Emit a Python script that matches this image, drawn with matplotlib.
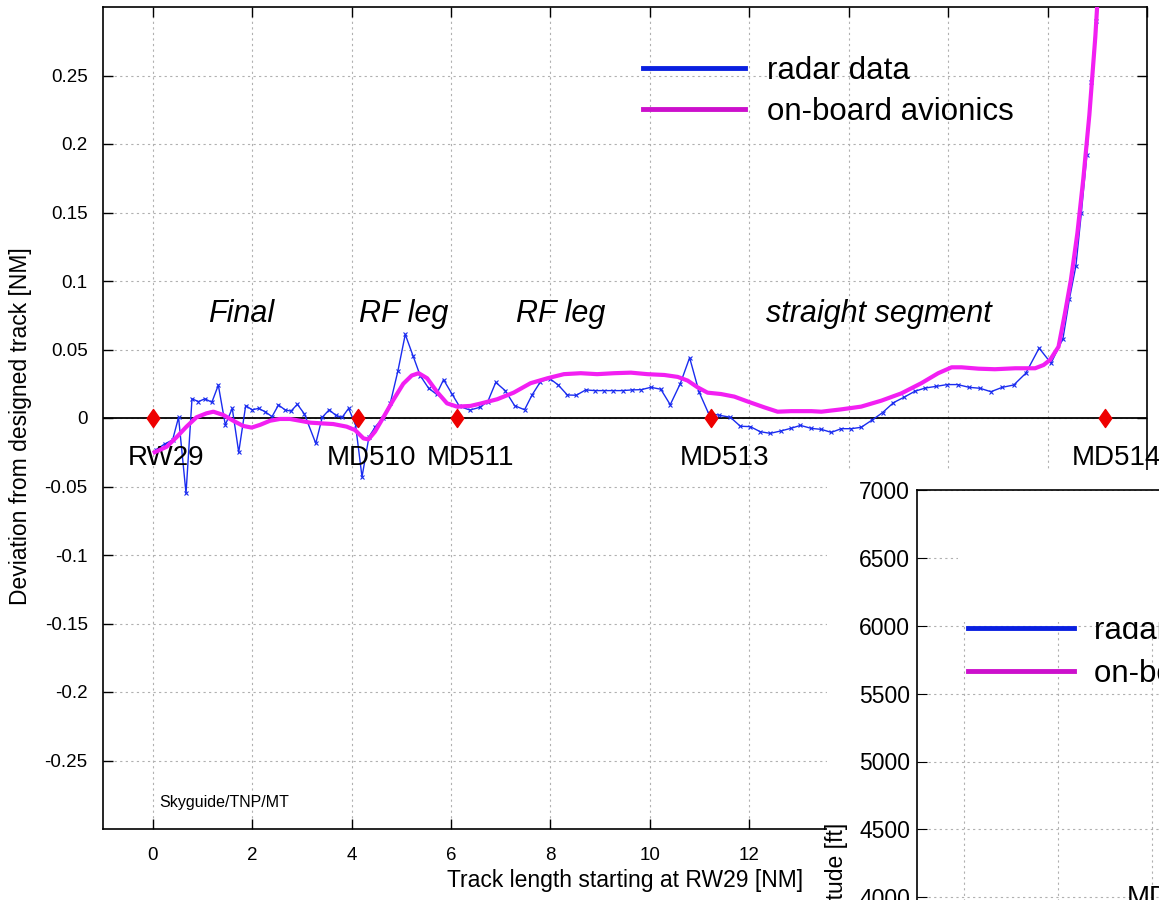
import matplotlib
matplotlib.use("Agg")
import matplotlib.pyplot as plt
from matplotlib.lines import Line2D
from matplotlib.patches import Rectangle
from matplotlib.path import Path

plt.rcParams["font.family"] = ["Liberation Sans", "DejaVu Sans"]

# radar data (track length NM, deviation NM)
radar_x = [0.07, 0.24, 0.40, 0.52, 0.67, 0.79, 0.92, 1.05, 1.19, 1.32, 1.46, 1.60, 1.73,
           1.87, 2.00, 2.13, 2.26, 2.40, 2.53, 2.66, 2.78, 2.91, 3.05, 3.28, 3.41, 3.55,
           3.68, 3.81, 3.94, 4.08, 4.21, 4.35, 4.48, 4.63, 4.78, 4.93, 5.08, 5.24, 5.38,
           5.55, 5.71, 5.85, 6.02, 6.17, 6.38, 6.58, 6.74, 6.90, 7.09, 7.28, 7.48, 7.63,
           7.80, 7.99, 8.16, 8.34, 8.52, 8.71, 8.89, 9.07, 9.26, 9.45, 9.64, 9.83, 10.02,
           10.22, 10.41, 10.61, 10.80, 10.99, 11.18, 11.40, 11.62, 11.82, 12.02, 12.22,
           12.42, 12.63, 12.83, 13.03, 13.25, 13.45, 13.65, 13.85, 14.05, 14.25, 14.47,
           14.68, 14.90, 15.11, 15.33, 15.54, 15.76, 15.98, 16.19, 16.42, 16.64, 16.86,
           17.09, 17.32, 17.56, 17.83, 18.07, 18.31, 18.44, 18.57, 18.68, 18.79, 18.88,
           18.97, 19.05]
radar_y = [-0.023, -0.019, -0.016, 0.0005, -0.055, 0.014, 0.012, 0.014, 0.0115, 0.024,
           -0.005, 0.007, -0.025, 0.009, 0.006, 0.007, 0.0046, 0.001, 0.0095, 0.006, 0.005,
           0.010, 0.003, -0.0185, 0.0005, 0.006, 0.002, 0.0005, 0.007, -0.005, -0.043,
           -0.0137, -0.0063, 0.0, 0.011, 0.034, 0.061, 0.045, 0.031, 0.0217, 0.0173, 0.028,
           0.0175, 0.0085, 0.0058, 0.0078, 0.012, 0.026, 0.020, 0.009, 0.006, 0.0168,
           0.0265, 0.0287, 0.024, 0.0168, 0.0166, 0.0205, 0.020, 0.020, 0.020, 0.020,
           0.0205, 0.0207, 0.0224, 0.021, 0.0097, 0.0249, 0.044, 0.019, 0.0034, 0.002,
           0.0005, -0.006, -0.0063, -0.010, -0.0112, -0.0095, -0.0076, -0.0054, -0.0076,
           -0.0083, -0.0105, -0.0078, -0.0078, -0.0068, -0.0015, 0.0039, 0.0112, 0.0151,
           0.0195, 0.0219, 0.0231, 0.0244, 0.0244, 0.0224, 0.0217, 0.0192, 0.0224, 0.0241,
           0.0326, 0.051, 0.040, 0.058, 0.087, 0.111, 0.150, 0.192, 0.245, 0.29, 0.33]

# on-board avionics
avio_x = [0.04, 0.28, 0.48, 0.68, 0.88, 1.08, 1.22, 1.42, 1.62, 1.82, 1.99, 2.16, 2.36,
          2.56, 2.76, 2.96, 3.17, 3.43, 3.63, 3.90, 4.07, 4.24, 4.34, 4.47, 4.64, 4.84,
          5.04, 5.21, 5.35, 5.52, 5.72, 5.92, 6.12, 6.39, 6.59, 6.93, 7.26, 7.60, 7.94,
          8.27, 8.61, 8.94, 9.28, 9.62, 9.95, 10.29, 10.56, 10.76, 10.96, 11.16, 11.43,
          11.70, 11.97, 12.30, 12.57, 12.84, 13.25, 13.45, 13.85, 14.25, 14.66, 15.06,
          15.46, 15.80, 16.07, 16.27, 16.61, 16.94, 17.35, 17.75, 17.92, 18.05, 18.22,
          18.35, 18.47, 18.60, 18.72, 18.84, 18.96, 19.03]
avio_y = [-0.025, -0.021, -0.014, -0.0063, 0.0005, 0.0034, 0.0046, 0.0022, -0.002, -0.0058,
          -0.007, -0.005, -0.002, -0.0007, -0.0007, -0.002, -0.0034, -0.004, -0.0044,
          -0.0063, -0.0088, -0.0149, -0.0156, -0.010, 0.0005, 0.0132, 0.025, 0.031, 0.0327,
          0.029, 0.019, 0.0107, 0.0083, 0.0088, 0.0105, 0.0137, 0.0185, 0.0254, 0.029,
          0.032, 0.0327, 0.032, 0.0327, 0.0331, 0.032, 0.0314, 0.030, 0.0273, 0.0224,
          0.0185, 0.0175, 0.0156, 0.012, 0.0078, 0.0046, 0.005, 0.005, 0.0046, 0.0063,
          0.0083, 0.0127, 0.018, 0.0254, 0.0327, 0.037, 0.037, 0.036, 0.0356, 0.0363,
          0.0363, 0.0387, 0.0424, 0.052, 0.0765, 0.101, 0.135, 0.175, 0.221, 0.278, 0.32]

waypoint_names = ["RW29", "MD510", "MD511", "MD513", "MD514"]
waypoint_x = [0.0, 4.13, 6.13, 11.23, 19.15]

segment_names = ["Final", "RF leg", "RF leg", "straight segment"]
segment_x = [1.77, 5.04, 8.2, 14.6]

x_ticks = [0, 2, 4, 6, 8, 10, 12, 14, 16, 18, 20]
y_ticks = [-0.25, -0.2, -0.15, -0.1, -0.05, 0, 0.05, 0.1, 0.15, 0.2, 0.25]
alt_ticks = [4000, 4500, 5000, 5500, 6000, 6500, 7000]

BLUE = "#1a2cf0"
MAGENTA = "#f21ff2"
W, H = 1159, 900


def fig_rect(x0, y0, x1, y1):
    # pixel box (top-left origin) -> figure fraction rect
    return [x0 / W, 1 - y1 / H, (x1 - x0) / W, (y1 - y0) / H]


diamond = Path([(0, 1), (0.7, 0), (0, -1), (-0.7, 0), (0, 1)],
               [Path.MOVETO, Path.LINETO, Path.LINETO, Path.LINETO, Path.CLOSEPOLY])

fig = plt.figure(figsize=(W / 100, H / 100), dpi=100)
ax = fig.add_axes(fig_rect(103, 7, 1147, 829))

ax.plot(radar_x, radar_y, color=BLUE, lw=1.0, marker="x", ms=3, mew=0.8, zorder=3)
ax.plot(avio_x, avio_y, color=MAGENTA, lw=3.0, zorder=4)
ax.axhline(0, color="black", lw=1.3, zorder=2)
ax.plot(waypoint_x, [0] * len(waypoint_x), ls="none", marker=diamond, ms=13,
        color="#ee0000", mec="#ee0000", zorder=5)

for name, x in zip(waypoint_names, waypoint_x):
    if name == "MD514":
        ax.text(x - 0.66, -0.029, name, fontsize=20, ha="left", va="center")
    else:
        ax.text(x + 0.27, -0.029, name, fontsize=20, ha="center", va="center")

for name, x in zip(segment_names, segment_x):
    ax.text(x, 0.076, name, fontsize=22, style="italic", ha="center", va="center")

ax.text(0.14, -0.281, "Skyguide/TNP/MT", fontsize=11.5, ha="left", va="center")

ax.set_xlim(-1, 20)
ax.set_ylim(-0.3, 0.3)
ax.set_xticks(x_ticks)
ax.set_yticks(y_ticks)
ax.set_yticklabels(["%g" % v for v in y_ticks])
ax.tick_params(direction="in", length=7, width=1, labelsize=13.5, top=True, right=True)
ax.tick_params(axis="y", pad=11)
ax.tick_params(axis="x", pad=13)
ax.grid(True, ls=(0, (2, 3)), color="#b0b0b0", lw=0.8)
for s in ax.spines.values():
    s.set_linewidth(1.2)
ax.set_xlabel("Track length starting at RW29 [NM]", fontsize=16.5)
ax.set_ylabel("Deviation from designed track [NM]", fontsize=16.5)
ax.xaxis.set_label_coords((625 - 103) / 1044, -(869 - 829) / 822)
ax.yaxis.set_label_coords(-(103 - 32) / 1044, 0.49)

handles = [Line2D([], [], color="#0a20e0", lw=3.5), Line2D([], [], color="#cc10cc", lw=3.5)]
labels = ["radar data", "on-board avionics"]
ax.legend(handles, labels, loc="center left", bbox_to_anchor=((643 - 103) / 1044, (829 - 91.5) / 822),
          frameon=False, fontsize=22.5, handlelength=3.25, handletextpad=0.72,
          labelspacing=0.37, borderpad=0, borderaxespad=0)

# second figure partly covering the first one
fig.add_artist(Rectangle((827 / W, 0), 1, 1 - 470 / H, transform=fig.transFigure,
                         facecolor="white", edgecolor="none", zorder=1))

ax2 = fig.add_axes([917 / W, 1 - 1033 / H, 987 / W, 543 / H])
ax2.set_zorder(2)
ax2.set_xlim(-1, 20)
ax2.set_ylim(3000, 7000)
ax2.set_xticks(x_ticks)
ax2.set_yticks(alt_ticks)
ax2.set_xticklabels([])
ax2.tick_params(direction="in", length=7, labelsize=16.5, top=True, right=True, pad=5)
ax2.grid(True, ls=(0, (2, 3)), color="#b0b0b0", lw=0.8)
for s in ax2.spines.values():
    s.set_linewidth(1.2)
ax2.text(3.47, 4091, "MD511", fontsize=20, ha="left", va="top")
ax2.legend(handles, labels, loc="center left", bbox_to_anchor=((968 - 917) / 987, (1033 - 652.5) / 543),
           frameon=False, fontsize=22.5, handlelength=3.4, handletextpad=0.62,
           labelspacing=0.42, borderpad=0, borderaxespad=0)
fig.text(836 / W, 1 - 877 / H, "Altitude [ft]", fontsize=16.5, rotation=90,
         ha="center", va="center", zorder=3)

fig.add_artist(Rectangle((958 / W, 1 - 622 / H), 1, (622 - 491) / H, transform=fig.transFigure,
                         facecolor="white", edgecolor="none", zorder=3))

fig.savefig("out.png", dpi=100)
